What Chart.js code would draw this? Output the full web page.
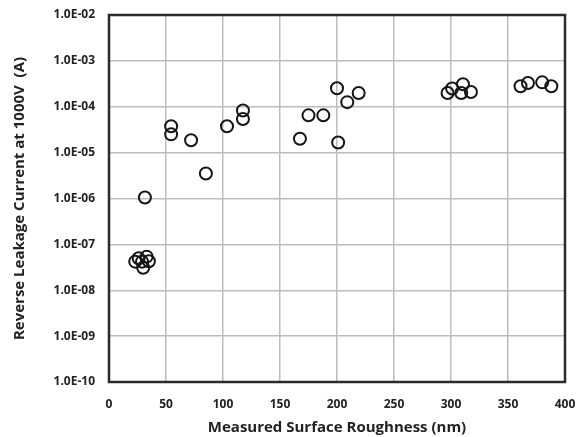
<!DOCTYPE html>
<html>
<head>
<meta charset="utf-8">
<script src="https://cdn.jsdelivr.net/npm/chart.js@4/dist/chart.umd.min.js"></script>
<style>
  html, body { margin: 0; padding: 0; background: #fff; }
  #wrap { width: 576px; height: 437px; position: relative; }
</style>
</head>
<body>
<div id="wrap"><canvas id="roughness-chart"></canvas></div>
<script>
// measured surface roughness (nm) vs reverse leakage current at 1000V (A)
const roughnessNm = [23, 26, 29, 30, 33, 35, 31.5,
  54.5, 54.5, 72, 85, 103.5, 117.5, 117.5,
  167.5, 175, 188, 200, 201, 209, 219,
  297, 301, 309, 310.5, 317.5,
  361, 367.5, 380, 388];
const leakageA = [4.2e-8, 5.0e-8, 4.2e-8, 3.1e-8, 5.4e-8, 4.3e-8, 1.05e-6,
  3.75e-5, 2.5e-5, 1.86e-5, 3.5e-6, 3.75e-5, 8.3e-5, 5.4e-5,
  2.0e-5, 6.5e-5, 6.5e-5, 2.54e-4, 1.66e-5, 1.26e-4, 2.0e-4,
  2.0e-4, 2.5e-4, 2.0e-4, 3.1e-4, 2.1e-4,
  2.8e-4, 3.3e-4, 3.4e-4, 2.8e-4];
const xTicks = [0, 50, 100, 150, 200, 250, 300, 350, 400];
const yExponents = [-10, -9, -8, -7, -6, -5, -4, -3, -2];

const points = roughnessNm.map((x, i) => ({ x: x, y: leakageA[i] }));

function sciLabel(v) {
  const e = Math.round(Math.log10(v));
  const abs = String(Math.abs(e)).padStart(2, '0');
  return '1.0E' + (e < 0 ? '-' : '+') + abs;
}

const frame = {
  id: 'frame',
  afterDatasetsDraw(chart) {
    const { ctx, chartArea: a } = chart;
    ctx.save();
    ctx.strokeStyle = '#2b2b2b';
    ctx.lineWidth = 2.5;
    ctx.strokeRect(a.left, a.top, a.right - a.left, a.bottom - a.top);
    ctx.restore();
  }
};

const tickFont = { family: 'Open Sans', weight: 'bold', size: 12 };
const titleFont = { family: 'Open Sans', weight: 'bold', size: 15 };
const gridColor = '#bdbdbd';

new Chart(document.getElementById('roughness-chart'), {
  type: 'scatter',
  data: {
    datasets: [{
      data: points,
      pointStyle: 'circle',
      pointRadius: 6,
      pointBorderWidth: 2,
      borderColor: '#151515',
      backgroundColor: 'rgba(0,0,0,0)',
    }],
  },
  options: {
    responsive: true,
    maintainAspectRatio: false,
    animation: false,
    layout: { padding: { top: 15, right: 11, left: 0, bottom: 0 } },
    plugins: { legend: { display: false }, tooltip: { enabled: false } },
    scales: {
      x: {
        type: 'linear',
        min: 0,
        max: 400,
        afterBuildTicks: (s) => { s.ticks = xTicks.map(v => ({ value: v })); },
        afterFit: (s) => { s.height = 55; s.paddingLeft = 0; s.paddingRight = 0; },
        grid: { color: gridColor, lineWidth: 1.5, drawTicks: false },
        border: { color: '#2b2b2b', width: 2 },
        ticks: { color: '#222', font: tickFont, padding: 15, maxRotation: 0 },
        title: {
          display: true,
          text: 'Measured Surface Roughness (nm)',
          color: '#222',
          font: titleFont,
          padding: { top: 0, bottom: 0 },
        },
      },
      y: {
        type: 'logarithmic',
        min: 1e-10,
        max: 1e-2,
        afterBuildTicks: (s) => { s.ticks = yExponents.map(e => ({ value: Math.pow(10, e) })); },
        afterFit: (s) => { s.width = 109; s.paddingTop = 0; s.paddingBottom = 0; },
        grid: { color: gridColor, lineWidth: 1.5, drawTicks: false },
        border: { color: '#2b2b2b', width: 2 },
        ticks: { color: '#222', font: tickFont, padding: 14, callback: (v) => sciLabel(v) },
        title: {
          display: true,
          text: 'Reverse Leakage Current at 1000V  (A)',
          color: '#222',
          font: titleFont,
          padding: { top: 11, bottom: 4 },
        },
      },
    },
  },
  plugins: [frame],
});
</script>
</body>
</html>
